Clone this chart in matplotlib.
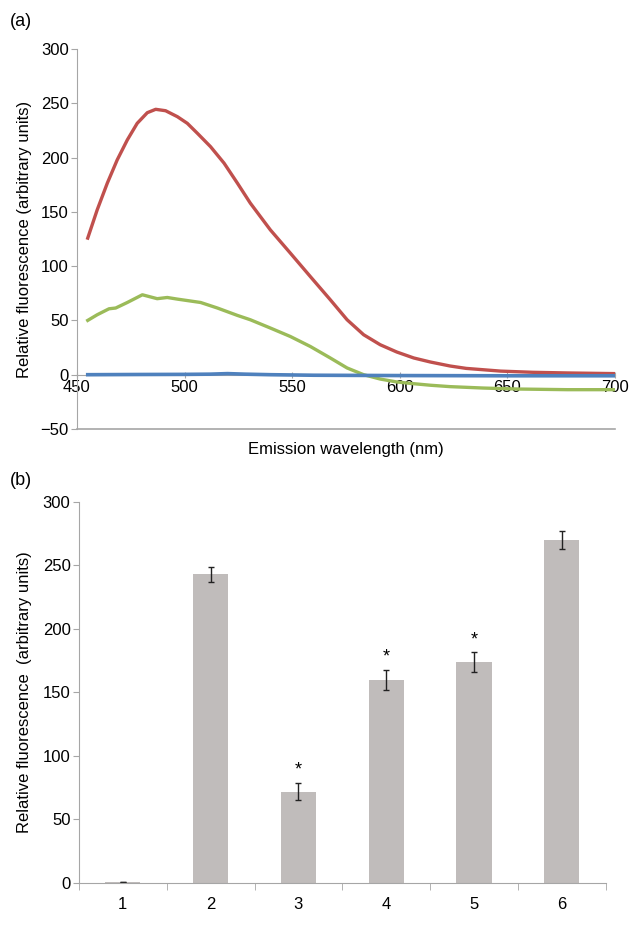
import numpy as np
import matplotlib
matplotlib.use("Agg")
import matplotlib.pyplot as plt

plt.rcParams['font.family'] = ['Liberation Sans', 'DejaVu Sans']

# panel (a) emission spectra
wl_red = [455, 459.4, 464.1, 468.7, 473.4, 478, 482.7, 486.6, 491.2, 496.7, 501.3, 506,
          512.1, 518.4, 524.6, 530.6, 539.9, 549.2, 558.5, 567.8, 575.6, 583.3, 591,
          598.7, 606.6, 614.3, 623.5, 631, 647, 662, 678, 700]
red = [125.8, 151.8, 176.4, 197.8, 216.2, 231.5, 241.3, 244.4, 243.1, 237.6, 231.5, 222.3,
       210, 194.8, 176.4, 158, 133.4, 112, 90.4, 69, 50.6, 36.8, 27.6,
       20.9, 15.4, 11.7, 8, 5.8, 3.3, 2.2, 1.6, 1]
wl_green = [455, 459.4, 464.9, 468, 473.4, 480.4, 487.3, 492, 496.7, 507.5, 515.3, 524.6,
            530.6, 539.9, 549.2, 558.5, 567.8, 575.6, 583.3, 591, 598.7, 606.6, 614.3,
            623.5, 639, 655, 678, 700]
green = [50, 55.2, 60.7, 61.4, 66.5, 73.6, 70, 71.1, 69.6, 66.5, 61.4, 54.6,
         50.6, 43, 35.2, 26, 15.4, 6.2, 0, -4, -6.7, -8.3, -9.7,
         -11, -12.3, -13.2, -13.8, -13.8]
wl_blue = [455, 480, 500, 512, 520, 528, 540, 560, 600, 650, 700]
blue = [0, 0.2, 0.3, 0.5, 1.0, 0.5, 0, -0.5, -0.8, -1, -1]

# panel (b) bars
groups = ['1', '2', '3', '4', '5', '6']
means = [0.5, 243, 72, 160, 174, 270]
errs = [0, 6, 7, 8, 8, 7]
starred = [False, False, True, True, True, False]

fig = plt.figure(figsize=(6.31, 9.34), dpi=100)
grey_axis = '#a6a6a6'

# ---- (a)
ax = fig.add_axes([0.122, 0.5407, 0.852, 0.4069])
ax.plot(wl_red, red, color='#C0504D', lw=2.4, zorder=3, solid_joinstyle='round')
ax.plot(wl_green, green, color='#9BBB59', lw=2.4, zorder=3, solid_joinstyle='round')
ax.plot(wl_blue, blue, color='#4F81BD', lw=2.6, zorder=3, solid_joinstyle='round')
ax.set_xlim(450, 700)
ax.set_ylim(-50, 300)
ax.set_yticks(range(-50, 301, 50))
ax.set_yticklabels(['\u221250', '0', '50', '100', '150', '200', '250', '300'])
ax.set_xticks(range(450, 701, 50))
for s in ['top', 'right']:
    ax.spines[s].set_visible(False)
ax.spines['bottom'].set_position(('data', 0))
ax.spines['bottom'].set_color(grey_axis)
ax.spines['left'].set_color(grey_axis)
ax.axhline(-50, color=grey_axis, lw=1.2, clip_on=False)
ax.tick_params(axis='x', direction='inout', length=4, color=grey_axis, labelsize=12, pad=2)
ax.tick_params(axis='y', direction='out', length=4, color=grey_axis, labelsize=12, pad=2)
ax.set_ylabel('Relative fluorescence (arbitrary units)', fontsize=12, labelpad=6)
ax.text(0.5, -0.035, 'Emission wavelength (nm)', transform=ax.transAxes,
        ha='center', va='top', fontsize=12)
fig.text(0.015, 0.977, '(a)', fontsize=13, ha='left', va='center')

# ---- (b)
bx = fig.add_axes([0.125, 0.0546, 0.835, 0.408])
x = np.arange(len(groups))
bx.bar(x, means, width=0.4, color='#c0bcbb', yerr=errs,
       error_kw=dict(ecolor='#222222', elinewidth=1, capsize=2.5, capthick=1))
for xi, m, e, st in zip(x, means, errs, starred):
    if st:
        bx.text(xi, m + e + 3, '*', ha='center', va='bottom', fontsize=13)
bx.set_xlim(-0.5, len(groups) - 0.5)
bx.set_ylim(0, 300)
bx.set_yticks(range(0, 301, 50))
bx.set_xticks(x)
bx.set_xticklabels(groups)
bx.set_xticks(np.arange(-0.5, len(groups)), minor=True)
bx.tick_params(axis='x', which='major', length=0, labelsize=12, pad=10)
bx.tick_params(axis='x', which='minor', length=5, color=grey_axis, direction='out')
bx.tick_params(axis='y', length=4, color=grey_axis, labelsize=12, pad=2)
for s in ['top', 'right']:
    bx.spines[s].set_visible(False)
bx.spines['bottom'].set_color(grey_axis)
bx.spines['left'].set_color(grey_axis)
bx.set_ylabel('Relative fluorescence  (arbitrary units)', fontsize=12, labelpad=8)
fig.text(0.015, 0.486, '(b)', fontsize=13, ha='left', va='center')

fig.savefig('out.png', dpi=100)
